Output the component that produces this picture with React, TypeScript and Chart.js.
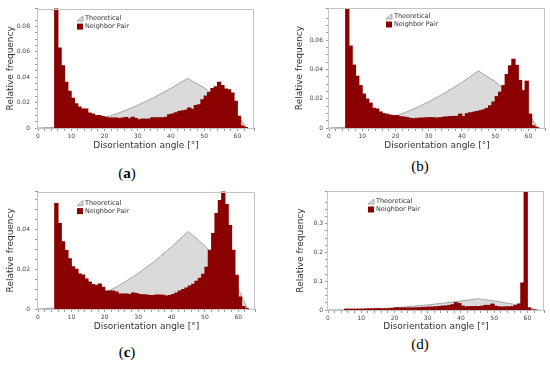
import React, { useEffect, useRef } from "react";
import { Chart, registerables } from "chart.js";

Chart.register(...registerables);
Chart.defaults.font.family = '"DejaVu Sans", Verdana, sans-serif';

// ---- data ----
const BIN_STARTS = [
  5, 6, 7, 8, 9, 10, 11, 12, 13, 14, 15, 16, 17, 18, 19, 20, 21, 22, 23, 24,
  25, 26, 27, 28, 29, 30, 31, 32, 33, 34, 35, 36, 37, 38, 39, 40, 41, 42, 43, 44,
  45, 46, 47, 48, 49, 50, 51, 52, 53, 54, 55, 56, 57, 58, 59, 60, 61, 62,
];
const BIN_WIDTH = 1;

const THEO_ANGLES = [0, 5, 10, 15, 20, 25, 30, 35, 40, 45, 50, 55, 60, 62.8];
const THEO_VALUES = [0, 0.0005, 0.002, 0.0045, 0.008, 0.0125, 0.0179, 0.0241, 0.0312, 0.039, 0.0317, 0.022, 0.0102, 0];

const PAIR_A = [
  0.096, 0.063, 0.049, 0.036, 0.029, 0.0235, 0.019, 0.0165, 0.015, 0.015,
  0.0118, 0.011, 0.0098, 0.0098, 0.009, 0.0085, 0.0078, 0.0078, 0.0078, 0.0075,
  0.0078, 0.0082, 0.0072, 0.0085, 0.0075, 0.0065, 0.007, 0.0068, 0.007, 0.008,
  0.008, 0.008, 0.008, 0.0085, 0.0105, 0.011, 0.012, 0.013, 0.0135, 0.014,
  0.0158, 0.0148, 0.0178, 0.0183, 0.0222, 0.0252, 0.028, 0.031, 0.0325, 0.036,
  0.0335, 0.0308, 0.0302, 0.0275, 0.021, 0.0092, 0.0015, 0.0004,
];
const PAIR_B = [
  0.09, 0.056, 0.043, 0.0354, 0.029, 0.0232, 0.0198, 0.017, 0.0135, 0.013,
  0.011, 0.0098, 0.0094, 0.0088, 0.0085, 0.0085, 0.0078, 0.0075, 0.0072, 0.0066,
  0.0064, 0.0066, 0.0068, 0.0068, 0.007, 0.0071, 0.007, 0.0068, 0.007, 0.0074,
  0.0076, 0.0078, 0.0079, 0.008, 0.0095, 0.0078, 0.0098, 0.0104, 0.0108, 0.0113,
  0.0118, 0.0124, 0.0134, 0.0152, 0.0178, 0.0215, 0.0245, 0.029, 0.0366, 0.0425,
  0.047, 0.0428, 0.0325, 0.0255, 0.032, 0.0095, 0.0015, 0.0004,
];
const PAIR_C = [
  0.053, 0.043, 0.0338, 0.0294, 0.0252, 0.0212, 0.02, 0.0176, 0.0171, 0.0151,
  0.0136, 0.0123, 0.0118, 0.0126, 0.0109, 0.0091, 0.0091, 0.009, 0.0086, 0.0076,
  0.0076, 0.0075, 0.0073, 0.008, 0.0078, 0.0073, 0.0072, 0.007, 0.0068, 0.0068,
  0.007, 0.007, 0.0069, 0.0065, 0.0068, 0.0073, 0.0081, 0.009, 0.0098, 0.0106,
  0.0115, 0.0125, 0.014, 0.0155, 0.0175, 0.021, 0.0295, 0.038, 0.048, 0.0545,
  0.06, 0.0525, 0.042, 0.0295, 0.017, 0.006, 0.0013, 0.0003,
];
const PAIR_D = [
  0.003, 0.003, 0.003, 0.003, 0.003, 0.003, 0.0035, 0.004, 0.004, 0.0045,
  0.0045, 0.004, 0.004, 0.0045, 0.005, 0.0075, 0.007, 0.007, 0.0068, 0.007,
  0.0072, 0.0075, 0.008, 0.009, 0.0095, 0.01, 0.0105, 0.011, 0.012, 0.0135,
  0.014, 0.016, 0.0185, 0.0255, 0.023, 0.0135, 0.011, 0.0115, 0.0115, 0.012,
  0.012, 0.0135, 0.016, 0.016, 0.0205, 0.013, 0.011, 0.0105, 0.011, 0.011,
  0.012, 0.0155, 0.021, 0.094, 0.43, 0.007, 0, 0,
];

const SERIES_LABELS = ["Theoretical", "Neighbor Pair"];
const X_TITLE = "Disorientation angle [°]";
const Y_TITLE = "Relative frequency";
const PANEL_LABELS = ["a", "b", "c", "d"];

// ---- layout per panel ----
const PANELS = [
  { data: PAIR_A, yMax: 0.094, yStep: 0.005, yMajor: 0.02, digits: 2, left: 0, top: 0, w: 275, h: 152, padTop: 8, padRight: 21, yW: 38, xH: 24, yTitlePad: 5.6, yTickPad: 5, lx: 39, ly: 10, label: 0, bold: true, labX: 127, labY: 173 },
  { data: PAIR_B, yMax: 0.082, yStep: 0.005, yMajor: 0.02, digits: 2, left: 290, top: 0, w: 260, h: 152, padTop: 8, padRight: 5, yW: 39, xH: 24, yTitlePad: 4.6, yTickPad: 3, lx: 57, ly: 8.5, label: 1, bold: false, labX: 420, labY: 166 },
  { data: PAIR_C, yMax: 0.059, yStep: 0.005, yMajor: 0.02, digits: 2, left: 0, top: 183, w: 275, h: 150, padTop: 8, padRight: 20, yW: 38, xH: 24, yTitlePad: 5.6, yTickPad: 5, lx: 39, ly: 11.5, label: 2, bold: true, labX: 127, labY: 352 },
  { data: PAIR_D, yMax: 0.414, yStep: 0.025, yMajor: 0.1, digits: 1, left: 290, top: 183, w: 260, h: 150, padTop: 8, padRight: 6, yW: 38, xH: 23, yTitlePad: 5.6, yTickPad: 2, lx: 40, ly: 10.5, label: 3, bold: false, labX: 420, labY: 344 },
];

const RED = "#8b0000";
const GREY_FILL = "#dadada";
const GREY_LINE = "#a5a5a5";

const decoPlugin = {
  id: "deco",
  afterDraw(chart: any, _args: any, opts: any) {
    const { ctx, chartArea } = chart;
    ctx.save();
    ctx.strokeStyle = "#c4c4c4";
    ctx.lineWidth = 1;
    const l = Math.round(chartArea.left) - 0.5;
    const t = Math.round(chartArea.top) + 0.5;
    const r = Math.round(chartArea.right) - 0.5;
    const b = Math.round(chartArea.bottom) + 0.5;
    ctx.strokeRect(l, t, r - l, b - t);
    const x = chartArea.left + opts.dx;
    const y = chartArea.top + opts.dy;
    ctx.beginPath();
    ctx.moveTo(x, y + 2.5);
    ctx.lineTo(x + 6, y - 2.5);
    ctx.lineTo(x + 6, y + 2.5);
    ctx.closePath();
    ctx.fillStyle = GREY_FILL;
    ctx.fill();
    ctx.strokeStyle = "#999";
    ctx.lineWidth = 0.8;
    ctx.stroke();
    ctx.fillStyle = RED;
    ctx.fillRect(x, y + 5, 6, 6);
    ctx.font = '6.5px "DejaVu Sans"';
    ctx.fillStyle = "#333";
    ctx.textBaseline = "middle";
    ctx.textAlign = "left";
    ctx.fillText(SERIES_LABELS[0], x + 8, y);
    ctx.fillText(SERIES_LABELS[1], x + 8, y + 8);
    ctx.restore();
  },
};

function isMultiple(v: number, step: number) {
  const r = v / step;
  return Math.abs(r - Math.round(r)) < 1e-6;
}

function Panel({ cfg }: { cfg: any }) {
  const ref = useRef<HTMLCanvasElement>(null);
  useEffect(() => {
    const pairPoints = BIN_STARTS.map((s, i) => ({ x: s + BIN_WIDTH / 2, y: cfg.data[i] }));
    const theoPoints = THEO_ANGLES.map((x, i) => ({ x, y: THEO_VALUES[i] }));
    const chart = new Chart(ref.current as HTMLCanvasElement, {
      type: "bar",
      data: {
        datasets: [
          {
            type: "bar",
            label: SERIES_LABELS[1],
            data: pairPoints,
            backgroundColor: RED,
            borderWidth: 0,
            barPercentage: 1,
            categoryPercentage: 1,
            inflateAmount: 0.5,
            order: 0,
          } as any,
          {
            type: "line",
            label: SERIES_LABELS[0],
            data: theoPoints,
            fill: "origin",
            backgroundColor: GREY_FILL,
            borderColor: GREY_LINE,
            borderWidth: 1,
            pointRadius: 0,
            tension: 0,
            order: 1,
          } as any,
        ],
      },
      options: {
        animation: false,
        responsive: false,
        events: [],
        layout: { padding: { top: cfg.padTop, right: cfg.padRight, left: 0, bottom: 0 } },
        plugins: {
          legend: { display: false },
          tooltip: { enabled: false },
          deco: { dx: cfg.lx, dy: cfg.ly },
        } as any,
        scales: {
          x: {
            type: "linear",
            min: 0,
            max: 65,
            offset: false,
            afterFit: (s: any) => {
              s.height = cfg.xH;
            },
            ticks: {
              stepSize: 2,
              autoSkip: false,
              maxRotation: 0,
              padding: 1.5,
              font: { size: 6 },
              color: "#444",
              callback: (v: any) => (isMultiple(Number(v), 10) ? String(Math.round(Number(v))) : ""),
            },
            grid: { display: true, offset: false, drawOnChartArea: false, drawTicks: true, tickLength: 3, color: "#999" },
            border: { display: false },
            title: {
              display: true,
              text: X_TITLE,
              font: { size: 9 },
              color: "#333",
              padding: { top: 0, bottom: 0.6 },
            },
          },
          y: {
            type: "linear",
            min: 0,
            max: cfg.yMax,
            afterFit: (s: any) => {
              s.width = cfg.yW;
            },
            ticks: {
              stepSize: cfg.yStep,
              autoSkip: false,
              padding: cfg.yTickPad,
              font: { size: 6 },
              color: "#444",
              callback: (v: any) => {
                const n = Number(v);
                if (!isMultiple(n, cfg.yMajor)) return "";
                return Math.abs(n) < 1e-9 ? "0" : n.toFixed(cfg.digits);
              },
            },
            grid: { display: true, drawOnChartArea: false, drawTicks: true, tickLength: 3, color: "#999" },
            border: { display: false },
            title: {
              display: true,
              text: Y_TITLE,
              font: { size: 9 },
              color: "#333",
              padding: { top: cfg.yTitlePad, bottom: 0 },
            },
          },
        },
      } as any,
      plugins: [decoPlugin as any],
    });
    return () => chart.destroy();
  }, []);
  return (
    <canvas
      ref={ref}
      width={cfg.w}
      height={cfg.h}
      style={{ position: "absolute", left: cfg.left, top: cfg.top, width: cfg.w, height: cfg.h }}
    />
  );
}

export default function App() {
  return (
    <div style={{ position: "absolute", left: 0, top: 0, width: 550, height: 365, background: "#fff", overflow: "hidden" }}>
      {PANELS.map((p, i) => (
        <Panel key={i} cfg={p} />
      ))}
      {PANELS.map((p, i) => (
        <div
          key={"l" + i}
          style={{
            position: "absolute",
            left: p.labX - 30,
            top: p.labY - 9,
            width: 60,
            height: 18,
            lineHeight: "18px",
            textAlign: "center",
            fontFamily: '"Liberation Serif", "Times New Roman", serif',
            fontSize: 15,
            color: "#000",
          }}
        >
          (<span style={{ fontWeight: p.bold ? "bold" : "normal" }}>{PANEL_LABELS[p.label]}</span>)
        </div>
      ))}
    </div>
  );
}
